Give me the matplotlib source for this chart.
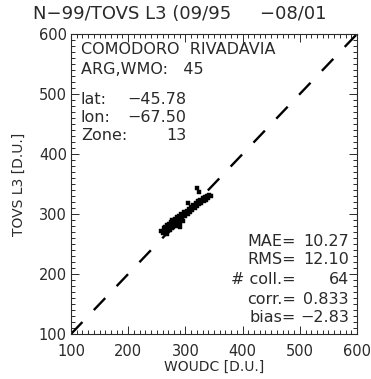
import matplotlib
matplotlib.use("Agg")
import matplotlib.pyplot as plt
from matplotlib.ticker import MultipleLocator

woudc = [258, 260, 262, 263, 265, 266, 267, 268, 269, 270,
         271, 272, 273, 274, 275, 276, 277, 278, 279, 280,
         281, 282, 283, 284, 285, 286, 287, 288, 289, 290,
         291, 292, 293, 294, 295, 296, 298, 300, 302, 304,
         306, 308, 310, 312, 314, 316, 318, 320, 322, 324,
         326, 328, 330, 332, 334, 336, 338, 340, 342, 345,
         321, 323, 305, 290]
tovs = [272, 268, 276, 270, 278, 273, 266, 281, 276, 272,
        283, 279, 274, 286, 281, 277, 290, 283, 279, 287,
        292, 284, 280, 289, 295, 286, 291, 283, 297, 290,
        285, 294, 300, 292, 288, 298, 303, 296, 305, 300,
        309, 304, 312, 307, 315, 310, 318, 313, 321, 316,
        323, 319, 326, 322, 328, 324, 330, 326, 332, 330,
        344, 336, 318, 278]

title = "N\u221299/TOVS L3 (09/95     \u221208/01"
station_lines = ["COMODORO  RIVADAVIA", "ARG,WMO:   45"]
loc_labels = ["lat:", "lon:", "Zone:"]
loc_values = ["\u221245.78", "\u221267.50", "13"]
stat_labels = ["MAE=", "RMS=", "# coll.=", "corr.=", "bias="]
stat_values = ["10.27", "12.10", "64", "0.833", "\u22122.83"]
ticks = [100, 200, 300, 400, 500, 600]

col = "#2a2a2a"
plt.rcParams['font.family'] = ['DejaVu Sans']
W, H = 371, 379
fig = plt.figure(figsize=(W/100, H/100), dpi=100)
L, R, T, B = 71, 357, 34, 334
ax = fig.add_axes([L/W, 1-B/H, (R-L)/W, (B-T)/H])
ax.set_xlim(100, 600)
ax.set_ylim(100, 600)

ax.plot(woudc, tovs, 's', ms=2.3, color='black', mec='black', mew=0.3)
ax.plot([100, 600], [100, 600], color='black', lw=1.7, linestyle=(0, (7, 7)))

ax.set_xticks(ticks)
ax.set_yticks(ticks)
ax.xaxis.set_minor_locator(MultipleLocator(10))
ax.yaxis.set_minor_locator(MultipleLocator(10))
ax.tick_params(which='both', direction='in', top=True, right=True, colors=col,
               labelsize=10.5, width=0.7)
ax.tick_params(which='major', length=6)
ax.tick_params(which='minor', length=3)
ax.tick_params(axis='x', pad=7)
ax.tick_params(axis='y', pad=3)
for s in ax.spines.values():
    s.set_linewidth(0.8)
    s.set_color(col)

ax.set_xlabel("WOUDC [D.U.]", fontsize=10, color=col, labelpad=1)
ax.set_ylabel("TOVS L3 [D.U.]", fontsize=10, color=col, labelpad=9)
fig.text(33/W, 1-14/H, title, fontsize=13, color=col, va='center', ha='left')

fs = 11.5
def axy(py):
    return (B - py) / (B - T)
def axx(px):
    return (px - L) / (R - L)

ax.text(axx(81), axy(50), station_lines[0], transform=ax.transAxes, fontsize=fs, color=col, va='center')
ax.text(axx(81), axy(70), station_lines[1], transform=ax.transAxes, fontsize=fs, color=col, va='center')
for lab, val, py in zip(loc_labels, loc_values, [100, 118, 136]):
    ax.text(axx(81), axy(py), lab, transform=ax.transAxes, fontsize=fs, color=col, va='center')
    ax.text(axx(186), axy(py), val, transform=ax.transAxes, fontsize=fs, color=col, va='center', ha='right')

for lab, val, py in zip(stat_labels, stat_values, [241, 259, 279, 300, 318]):
    ax.text(axx(296), axy(py), lab, transform=ax.transAxes, fontsize=fs, color=col, va='center', ha='right')
    ax.text(axx(349), axy(py), val, transform=ax.transAxes, fontsize=fs, color=col, va='center', ha='right')

fig.savefig("out.png", dpi=100)
